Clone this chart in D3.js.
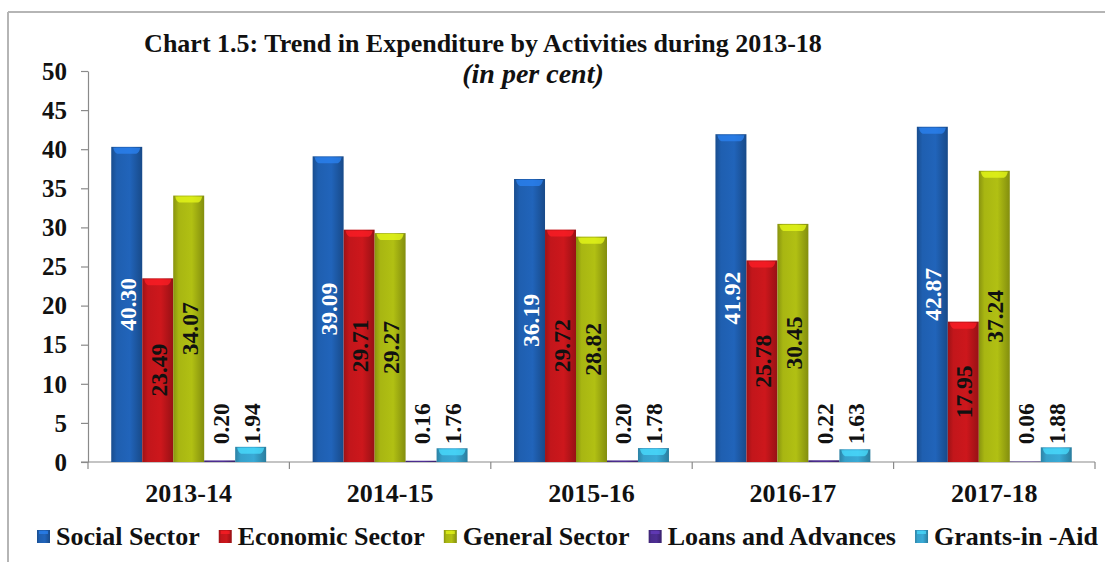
<!DOCTYPE html>
<html>
<head>
<meta charset="utf-8">
<script src="https://cdn.jsdelivr.net/npm/d3@7/dist/d3.min.js"></script>
<style>
  html, body { margin: 0; padding: 0; background: #fff; }
  svg { display: block; }
  svg text { font-family: "Times New Roman", "Liberation Serif", "DejaVu Serif", serif; font-weight: bold; }
</style>
</head>
<body>
<svg id="chart" width="1105" height="562"></svg>
<script>
// Years on the category axis
const years = ["2013-14", "2014-15", "2015-16", "2016-17", "2017-18"];
// Series names, in legend order
const seriesNames = ["Social Sector", "Economic Sector", "General Sector", "Loans and Advances", "Grants-in -Aid"];
// Share of expenditure (per cent) by activity, one array per series
const social   = [40.30, 39.09, 36.19, 41.92, 42.87];
const economic = [23.49, 29.71, 29.72, 25.78, 17.95];
const general  = [34.07, 29.27, 28.82, 30.45, 37.24];
const loans    = [0.20, 0.16, 0.20, 0.22, 0.06];
const grants   = [1.94, 1.76, 1.78, 1.63, 1.88];
// Y axis ticks
const yTicks = [0, 5, 10, 15, 20, 25, 30, 35, 40, 45, 50];

const seriesValues = [social, economic, general, loans, grants];
const colors = ["#1f5fb0", "#c2161b", "#a8b612", "#4a2c8c", "#36a1cb"];
const labelColors = ["#ffffff", "#111111", "#111111", "#111111", "#111111"];
const FONT = '"Times New Roman", "Liberation Serif", "DejaVu Serif", serif';

const svg = d3.select("#chart");
const W = 1105, H = 562, left = 88, right = 1095;

// frame lines
svg.append("line").attr("x1", 8).attr("x2", W).attr("y1", 12).attr("y2", 12)
  .attr("stroke", "#b5b5b5").attr("stroke-width", 2);
svg.append("line").attr("x1", 8).attr("x2", 8).attr("y1", 12).attr("y2", H)
  .attr("stroke", "#b5b5b5").attr("stroke-width", 2);

const x0 = d3.scaleBand().domain(years).range([left, right]).paddingInner(0).paddingOuter(0);
const x1 = d3.scaleBand().domain(seriesNames).range([0, x0.bandwidth()]).paddingInner(0).paddingOuter(0.75);
const y = d3.scaleLinear().domain([0, 50]).range([462, 71]);

// gradients for the rounded-bar look
const defs = svg.append("defs");
colors.forEach((c, i) => {
  const g = defs.append("linearGradient").attr("id", "grad" + i).attr("x1", "0%").attr("x2", "100%");
  const base = d3.color(c);
  g.append("stop").attr("offset", "0%").attr("stop-color", base.darker(0.6));
  g.append("stop").attr("offset", "18%").attr("stop-color", base);
  g.append("stop").attr("offset", "60%").attr("stop-color", base.brighter(0.15));
  g.append("stop").attr("offset", "100%").attr("stop-color", base.darker(0.7));
});

// Y axis
const yAxis = d3.axisLeft(y).tickValues(yTicks).tickSize(7).tickSizeOuter(0);
const gy = svg.append("g").attr("transform", `translate(${left},0)`).call(yAxis)
  .attr("font-family", FONT);
gy.select(".domain").attr("stroke", "#8a8a8a").attr("stroke-width", 1.2);
gy.selectAll(".tick line").attr("stroke", "#8a8a8a").attr("stroke-width", 1.2);
gy.selectAll(".tick text").attr("font-size", 25).attr("fill", "#111").attr("x", -21).attr("dy", "0.33em");

// X axis
const gx = svg.append("g").attr("transform", `translate(0,${y(0)})`);
gx.append("line").attr("x1", left - 7).attr("x2", right).attr("y1", 0).attr("y2", 0)
  .attr("stroke", "#8a8a8a").attr("stroke-width", 1.2);
const boundaries = years.map(d => x0(d)).concat([x0(years[years.length - 1]) + x0.bandwidth()]);
gx.selectAll("line.tk").data(boundaries).join("line").attr("class", "tk")
  .attr("x1", d => d).attr("x2", d => d).attr("y1", 0).attr("y2", 7)
  .attr("stroke", "#8a8a8a").attr("stroke-width", 1.2);
gx.selectAll("text").data(years).join("text")
  .attr("x", d => x0(d) + x0.bandwidth() / 2).attr("y", 40)
  .attr("text-anchor", "middle").attr("font-size", 26).attr("fill", "#111").text(d => d);

// bars
const flat = [];
years.forEach((yr, i) => {
  seriesNames.forEach((s, j) => flat.push({ yr, s, j, v: seriesValues[j][i] }));
});
const bars = svg.append("g").selectAll("g").data(flat).join("g")
  .attr("transform", d => `translate(${x0(d.yr) + x1(d.s)},0)`);
bars.append("rect")
  .attr("x", 0).attr("width", x1.bandwidth())
  .attr("y", d => y(d.v)).attr("height", d => y(0) - y(d.v))
  .attr("fill", d => `url(#grad${d.j})`);
// lighter cap on top of each bar
bars.filter(d => y(0) - y(d.v) > 6).append("path")
  .attr("d", d => {
    const w = x1.bandwidth(), t = y(d.v);
    return `M2,${t + 1} L${w - 2},${t + 1} Q${w - 3},${t + 6} ${w - 6},${t + 7} L6,${t + 7} Q3,${t + 6} 2,${t + 1} Z`;
  })
  .attr("fill", d => d3.color(colors[d.j]).brighter(0.9))
  .attr("opacity", 0.75);

// value labels: centred inside the large bars, above the small ones
bars.append("text")
  .attr("transform", d => {
    const cx = x1.bandwidth() / 2 + 9;
    if (d.v > 5) return `translate(${cx},${(y(d.v) + y(0)) / 2}) rotate(-90)`;
    return `translate(${cx},${Math.min(y(d.v), y(2)) - 2}) rotate(-90)`;
  })
  .attr("text-anchor", d => d.v > 5 ? "middle" : "start")
  .attr("font-size", 23.5)
  .attr("fill", d => d.v > 5 ? labelColors[d.j] : "#111")
  .text(d => d.v.toFixed(2));

// title
svg.append("text").attr("x", 483).attr("y", 52).attr("text-anchor", "middle")
  .attr("font-size", 26).attr("fill", "#111")
  .text("Chart 1.5: Trend in Expenditure by Activities during 2013-18");
svg.append("text").attr("x", 533).attr("y", 83).attr("text-anchor", "middle")
  .attr("font-size", 28).attr("font-style", "italic").attr("fill", "#111")
  .text("(in per cent)");

// legend, spread across the bottom edge
const legendLeft = 37, legendRight = 1098, markerW = 13, markerGap = 6;
const legend = svg.append("g").attr("transform", "translate(0,545)");
const items = seriesNames.map((s, j) => {
  const g = legend.append("g");
  g.append("rect").attr("x", 0).attr("y", -15).attr("width", markerW).attr("height", markerW)
    .attr("fill", `url(#grad${j})`);
  g.append("rect").attr("x", 2).attr("y", -14).attr("width", markerW - 4).attr("height", 3)
    .attr("fill", d3.color(colors[j]).brighter(0.9)).attr("opacity", 0.7);
  const t = g.append("text").attr("x", markerW + markerGap).attr("y", 0).attr("font-size", 26)
    .attr("fill", "#111").text(s);
  return { g, w: markerW + markerGap + t.node().getComputedTextLength() };
});
const totalW = d3.sum(items, d => d.w);
const gap = (legendRight - legendLeft - totalW) / (items.length - 1);
let lx = legendLeft;
items.forEach(it => { it.g.attr("transform", `translate(${lx},0)`); lx += it.w + gap; });
</script>
</body>
</html>
